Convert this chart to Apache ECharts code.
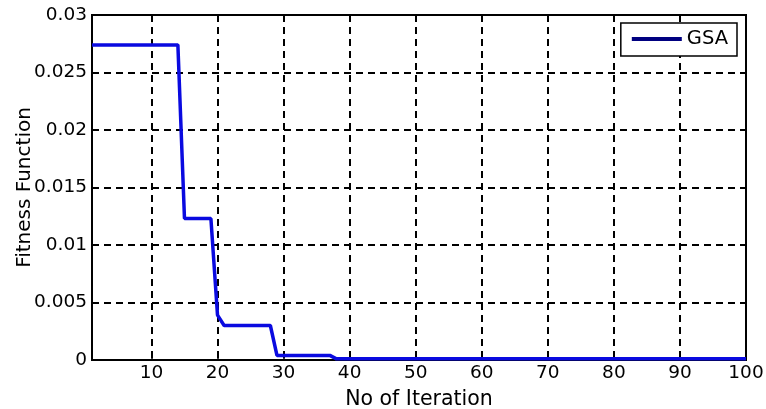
<!DOCTYPE html>
<html><head><meta charset="utf-8">
<script src="https://cdn.jsdelivr.net/npm/echarts@6/dist/echarts.min.js"></script>
<style>html,body{margin:0;padding:0;background:#fff}#c{width:766px;height:409px}</style>
</head><body><div id="c"></div>
<script>
// Iterations 1..100
const iterations = Array.from({length: 100}, (_, i) => i + 1);
// Fitness values (step-like decrease)
const gsaHead = [
  0.0274, 0.0274, 0.0274, 0.0274, 0.0274, 0.0274, 0.0274, 0.0274, 0.0274, 0.0274, // 1-10
  0.0274, 0.0274, 0.0274, 0.0274, 0.0123, 0.0123, 0.0123, 0.0123, 0.0123, 0.0039, // 11-20
  0.0030, 0.0030, 0.0030, 0.0030, 0.0030, 0.0030, 0.0030, 0.0030, 0.0004, 0.0004, // 21-30
  0.0004, 0.0004, 0.0004, 0.0004, 0.0004, 0.0004, 0.0004                          // 31-37
];
const gsaTailValue = 0.0001; // iterations 38-100 (flat)
const gsaValues = iterations.map((it, i) => i < gsaHead.length ? gsaHead[i] : gsaTailValue);
const xTicks = [10, 20, 30, 40, 50, 60, 70, 80, 90, 100];
const yTicks = [0, 0.005, 0.01, 0.015, 0.02, 0.025, 0.03];

const font = 'DejaVu Sans, sans-serif';
const chart = echarts.init(document.getElementById('c'));
chart.setOption({
  animation: false,
  backgroundColor: '#fff',
  grid: { left: 92, right: 20, top: 15, bottom: 49, containLabel: false, outerBoundsMode: 'none',
    show: true, borderColor: '#000', borderWidth: 2, backgroundColor: 'transparent' },
  legend: {
    show: true, right: 29, top: 23, orient: 'vertical',
    backgroundColor: '#fff', borderColor: '#000', borderWidth: 1.5,
    padding: [6, 9, 7, 11], itemWidth: 50, itemHeight: 4, itemGap: 5,
    icon: 'rect',
    textStyle: { fontFamily: font, fontSize: 19.5, color: '#000' },
    data: [{ name: 'GSA', itemStyle: { color: '#000080' } }]
  },
  xAxis: {
    type: 'value', min: 1, max: 100,
    name: 'No of Iteration', nameLocation: 'middle', nameGap: 29, nameMoveOverlap: false,
    nameTextStyle: { fontFamily: font, fontSize: 20.5, color: '#000' },
    axisLine: { show: true, lineStyle: { color: '#000', width: 2 } },
    axisTick: { show: true, inside: true, length: 5, customValues: xTicks, lineStyle: { color: '#000', width: 1.5 } },
    axisLabel: { customValues: xTicks, fontFamily: font, fontSize: 18.5, color: '#000', margin: 4 },
    splitLine: { show: true, lineStyle: { color: '#000', width: 2, type: [7, 5] } }
  },
  yAxis: {
    type: 'value', min: 0, max: 0.03, interval: 0.005,
    name: 'Fitness Function', nameLocation: 'middle', nameGap: 57, nameMoveOverlap: false,
    nameTextStyle: { fontFamily: font, fontSize: 20, color: '#000' },
    axisLine: { show: true, lineStyle: { color: '#000', width: 2 } },
    axisTick: { show: true, inside: true, length: 5, lineStyle: { color: '#000', width: 1.5 } },
    axisLabel: { fontFamily: font, fontSize: 18.5, color: '#000', margin: 5,
      formatter: v => { const t = yTicks.find(y => Math.abs(y - v) < 1e-9); return t === undefined ? '' : String(+t.toFixed(3)); } },
    splitLine: { show: true, lineStyle: { color: '#000', width: 2, type: [7, 5] } }
  },
  series: [{
    name: 'GSA', type: 'line', showSymbol: false, symbol: 'none',
    data: iterations.map((it, i) => [it, gsaValues[i]]),
    lineStyle: { color: '#0a0ae0', width: 3.5 },
    itemStyle: { color: '#000080' },
    z: 5
  }]
});
</script></body></html>
